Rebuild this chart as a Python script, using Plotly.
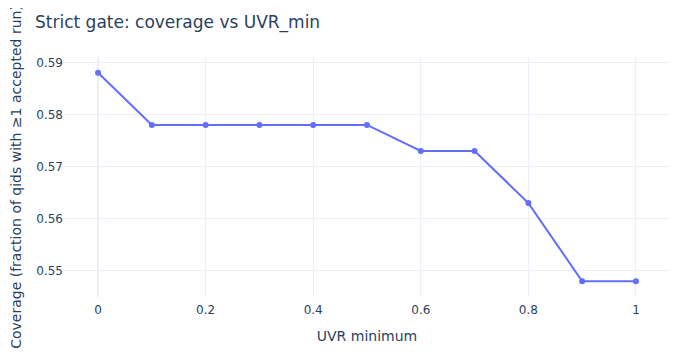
import plotly.graph_objects as go

uvr_min = [0.0, 0.1, 0.2, 0.3, 0.4, 0.5, 0.6, 0.7, 0.8, 0.9, 1.0]
coverage = [0.588, 0.578, 0.578, 0.578, 0.578, 0.578, 0.573, 0.573, 0.563, 0.548, 0.548]

fig = go.Figure()
fig.add_trace(go.Scatter(x=uvr_min, y=coverage, mode='lines+markers'))

# page body keeps an 8px margin, so the figure is a bit smaller and shifted
fig.update_layout(
    title=dict(text='Strict gate: coverage vs UVR_min', x=27 / 692, xanchor='left',
               y=1 - 14 / 352, yanchor='middle'),
    xaxis_title='UVR minimum',
    yaxis_title='Coverage (fraction of qids with ≥1 accepted run)',
    template='plotly_white',
    font=dict(family='Verdana, DejaVu Sans, sans-serif'),
    width=692, height=352,
    margin=dict(l=56, r=30, t=49, b=63),
)
fig.update_yaxes(automargin=False)
fig.update_xaxes(automargin=False, ticklabelstandoff=4)

fig.write_html("out.html")
